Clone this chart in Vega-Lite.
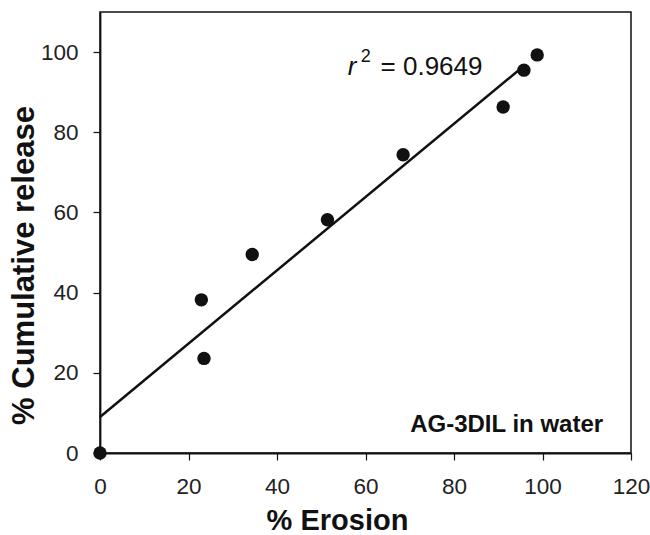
{
  "$schema": "https://vega.github.io/schema/vega-lite/v6.json",
  "autosize": "none",
  "width": 531,
  "height": 441,
  "padding": {"left": 100, "top": 12, "right": 19, "bottom": 82},
  "background": "white",
  "config": {
    "font": "Liberation Sans",
    "view": {"stroke": "#111", "strokeWidth": 1.5},
    "axis": {
      "grid": false,
      "labelFlush": false,
      "labelOverlap": false,
      "domainColor": "#111",
      "domainWidth": 1.8,
      "tickColor": "#111",
      "tickWidth": 1.2,
      "tickSize": 7,
      "labelFont": "Liberation Sans",
      "labelFontSize": 22.5,
      "labelColor": "#222",
      "titleFont": "Liberation Sans",
      "titleFontWeight": "bold",
      "titleColor": "#111"
    }
  },
  "datasets": {
    "points": [
      {"erosion": 0, "release": 0},
      {"erosion": 22.9, "release": 38.2},
      {"erosion": 23.5, "release": 23.6},
      {"erosion": 34.4, "release": 49.5},
      {"erosion": 51.4, "release": 58.2},
      {"erosion": 68.5, "release": 74.4},
      {"erosion": 91.1, "release": 86.3},
      {"erosion": 95.8, "release": 95.5},
      {"erosion": 98.8, "release": 99.3}
    ],
    "fit": [
      {"erosion": 0, "release": 9.0},
      {"erosion": 95.5, "release": 96.3}
    ]
  },
  "layer": [
    {
      "data": {"name": "fit"},
      "mark": {"type": "line", "color": "#111", "strokeWidth": 2.5},
      "encoding": {
        "x": {"field": "erosion", "type": "quantitative", "scale": {"domain": [0, 120], "nice": false},
              "axis": {"title": "% Erosion", "values": [0, 20, 40, 60, 80, 100, 120], "labelPadding": 15,
                       "titleFontSize": 29, "titleX": 237, "titleY": 76, "titleBaseline": "alphabetic", "titleAnchor": "middle", "titleAlign": "center"}},
        "y": {"field": "release", "type": "quantitative", "scale": {"domain": [0, 110], "nice": false},
              "axis": {"title": "% Cumulative release", "values": [0, 20, 40, 60, 80, 100], "labelPadding": 15,
                       "titleFontSize": 31, "titleX": -67, "titleY": 253, "titleAngle": 270, "titleBaseline": "alphabetic", "titleAlign": "center"}}
      }
    },
    {
      "data": {"name": "points"},
      "mark": {"type": "circle", "color": "#111", "opacity": 1, "size": 180, "clip": false},
      "encoding": {
        "x": {"field": "erosion", "type": "quantitative"},
        "y": {"field": "release", "type": "quantitative"}
      }
    },
    {
      "data": {"values": [{"x": 56.0, "y": 94.3, "t": "r"}]},
      "mark": {"type": "text", "align": "left", "baseline": "alphabetic", "fontSize": 26, "fontStyle": "italic", "color": "#111"},
      "encoding": {
        "x": {"field": "x", "type": "quantitative"},
        "y": {"field": "y", "type": "quantitative"},
        "text": {"field": "t"}
      }
    },
    {
      "data": {"values": [{"x": 58.9, "y": 97.6, "t": "2"}]},
      "mark": {"type": "text", "align": "left", "baseline": "alphabetic", "fontSize": 18, "color": "#111"},
      "encoding": {
        "x": {"field": "x", "type": "quantitative"},
        "y": {"field": "y", "type": "quantitative"},
        "text": {"field": "t"}
      }
    },
    {
      "data": {"values": [{"x": 63.4, "y": 94.3, "t": "= 0.9649"}]},
      "mark": {"type": "text", "align": "left", "baseline": "alphabetic", "fontSize": 26, "color": "#111"},
      "encoding": {
        "x": {"field": "x", "type": "quantitative"},
        "y": {"field": "y", "type": "quantitative"},
        "text": {"field": "t"}
      }
    },
    {
      "data": {"values": [{"x": 113.7, "y": 5.2, "t": "AG-3DIL in water"}]},
      "mark": {"type": "text", "align": "right", "baseline": "alphabetic", "fontSize": 24, "fontWeight": "bold", "color": "#111"},
      "encoding": {
        "x": {"field": "x", "type": "quantitative"},
        "y": {"field": "y", "type": "quantitative"},
        "text": {"field": "t"}
      }
    }
  ]
}
